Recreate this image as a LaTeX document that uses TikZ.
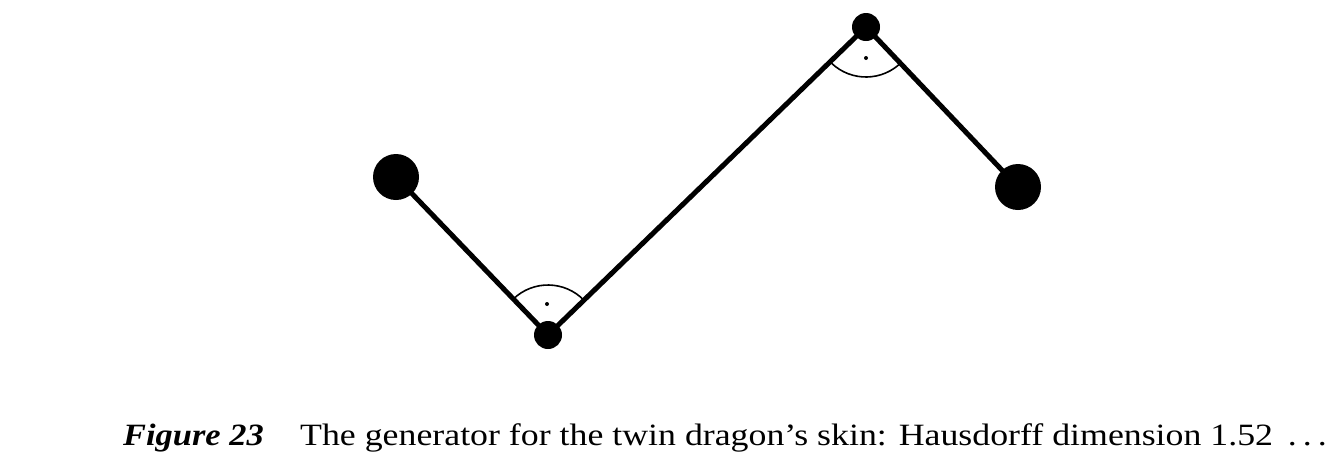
\documentclass[tikz,border=0pt]{standalone}
\usepackage{fontspec}
\setmainfont{Liberation Serif}
\begin{document}
\begin{tikzpicture}[x=1pt,y=-1pt,
  seg/.style={line width=5pt},
  bigdot/.style={circle,fill=black,inner sep=0pt,minimum size=46pt},
  smalldot/.style={circle,fill=black,inner sep=0pt,minimum size=28pt},
  tinydot/.style={circle,fill=black,inner sep=0pt,minimum size=4pt},
  anglearc/.style={line width=1.6pt},
  captxt/.style={anchor=base west,inner sep=0pt,font=\fontsize{31}{36}\selectfont}]
\useasboundingbox (0,0) rectangle (1337,467);
\coordinate (A) at (396,177);
\coordinate (B) at (548,335);
\coordinate (C) at (866,27);
\coordinate (D) at (1018,187);
\draw[seg] (A) -- (B) -- (C) -- (D);
\node[bigdot] (a) at (A) {};
\node[smalldot] (b) at (B) {};
\node[smalldot] (c) at (C) {};
\node[bigdot] (d) at (D) {};
% right-angle marks
\draw[anglearc] ([shift={(226:50)}]B) arc[start angle=226,end angle=316,radius=50];
\node[tinydot] (bd) at (547,304) {};
\draw[anglearc] ([shift={(134:50)}]C) arc[start angle=134,end angle=44,radius=50];
\node[tinydot] (cd) at (866,58) {};
% caption
\node[captxt,font=\fontsize{31}{36}\selectfont\bfseries\itshape] (fig) at (123,445) {\scalebox{1.11}[1]{Figure 23}};
\node[captxt] (cap) at (300,445) {\scalebox{1.155}[1]{The generator for the twin dragon’s skin: Hausdorff dimension 1.52 \,.\,.\,.}};
\end{tikzpicture}
\end{document}
